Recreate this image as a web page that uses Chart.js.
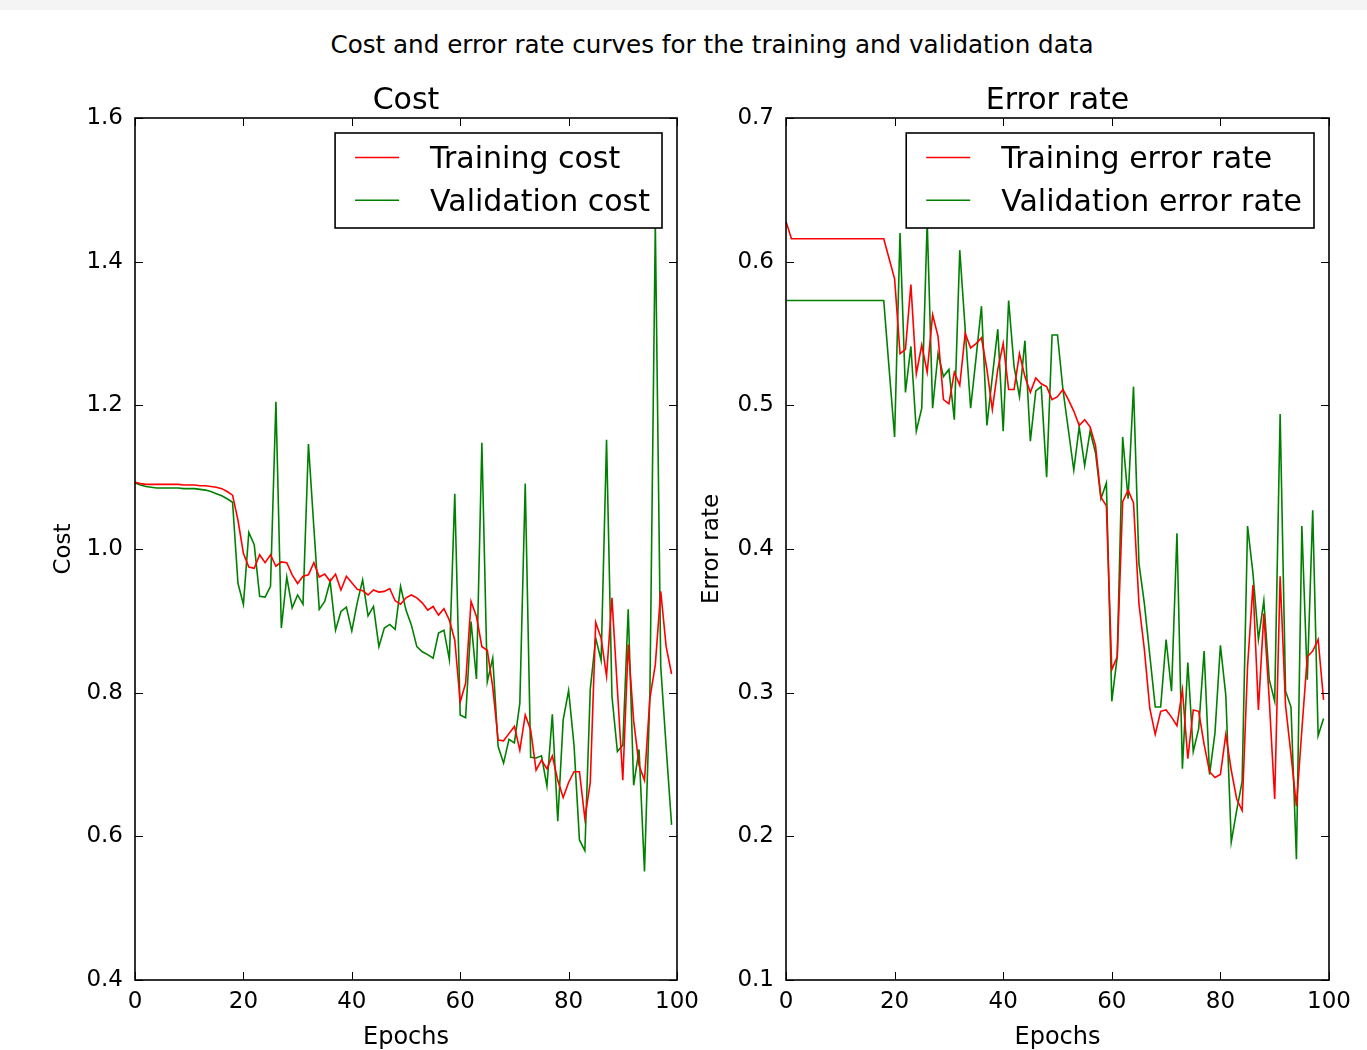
<!DOCTYPE html>
<html>
<head>
<meta charset="utf-8">
<script src="https://cdn.jsdelivr.net/npm/chart.js@4.4.1/dist/chart.umd.min.js"></script>
<style>
html,body{margin:0;padding:0;background:#fff;overflow:hidden;width:1367px;height:1050px;}
#band{position:absolute;left:0;top:0;width:1367px;height:10px;background:#f4f4f4;}
#sup{position:absolute;left:711.5px;top:31px;white-space:nowrap;font-family:"DejaVu Sans Condensed","DejaVu Sans",sans-serif;font-stretch:condensed;font-size:24px;line-height:28px;color:#000;transform-origin:center center;}
canvas{position:absolute;top:0;}
</style>
</head>
<body>
<div id="band"></div>
<div id="sup">Cost and error rate curves for the training and validation data</div>
<canvas id="c1" width="812" height="1050" style="left:0px"></canvas>
<canvas id="c2" width="735" height="1050" style="left:690px"></canvas>
<script>
const epochs = [0,1,2,3,4,5,6,7,8,9,10,11,12,13,14,15,16,17,18,19,20,21,22,23,24,25,26,27,28,29,30,31,32,33,34,35,36,37,38,39,40,41,42,43,44,45,46,47,48,49,50,51,52,53,54,55,56,57,58,59,60,61,62,63,64,65,66,67,68,69,70,71,72,73,74,75,76,77,78,79,80,81,82,83,84,85,86,87,88,89,90,91,92,93,94,95,96,97,98,99];

const costTrain = [1.093,1.091,1.090,1.090,1.090,1.090,1.090,1.090,1.090,1.089,1.089,1.089,1.088,1.088,1.087,1.086,1.084,1.080,1.075,1.040,
0.994,0.975,0.973,0.992,0.981,0.992,0.976,0.982,0.981,0.964,0.952,0.962,0.964,0.981,0.961,0.965,0.955,0.965,0.943,0.962,
0.953,0.944,0.942,0.936,0.943,0.940,0.941,0.945,0.928,0.923,0.932,0.936,0.932,0.925,0.915,0.920,0.908,0.917,0.901,0.873,
0.787,0.813,0.927,0.906,0.864,0.859,0.808,0.734,0.733,0.743,0.753,0.720,0.769,0.748,0.692,0.706,0.694,0.712,0.678,0.654,
0.675,0.690,0.690,0.625,0.675,0.898,0.876,0.823,0.932,0.805,0.678,0.867,0.761,0.699,0.678,0.792,0.839,0.941,0.864,0.826];

const costVal = [1.092,1.089,1.087,1.086,1.085,1.085,1.085,1.085,1.085,1.084,1.084,1.084,1.083,1.082,1.080,1.077,1.074,1.070,1.065,0.952,
0.923,1.023,1.006,0.934,0.933,0.948,1.205,0.890,0.961,0.918,0.936,0.923,1.146,1.030,0.916,0.927,0.955,0.887,0.913,0.919,
0.886,0.925,0.957,0.907,0.920,0.864,0.890,0.895,0.888,0.948,0.915,0.894,0.864,0.857,0.853,0.848,0.883,0.887,0.846,1.077,
0.769,0.765,0.899,0.819,1.148,0.815,0.848,0.725,0.702,0.735,0.730,0.785,1.091,0.710,0.709,0.712,0.670,0.770,0.621,0.762,
0.803,0.727,0.595,0.580,0.805,0.876,0.845,1.152,0.795,0.718,0.727,0.916,0.671,0.721,0.551,0.799,1.452,0.836,0.724,0.616];

const errTrain = [0.628,0.616,0.616,0.616,0.616,0.616,0.616,0.616,0.616,0.616,0.616,0.616,0.616,0.616,0.616,0.616,0.616,0.616,0.616,0.602,
0.588,0.536,0.539,0.584,0.522,0.542,0.523,0.563,0.548,0.504,0.501,0.523,0.514,0.550,0.540,0.543,0.547,0.525,0.497,0.525,
0.543,0.511,0.511,0.536,0.520,0.509,0.519,0.515,0.513,0.504,0.506,0.511,0.504,0.496,0.486,0.490,0.485,0.472,0.436,0.430,
0.316,0.325,0.433,0.441,0.432,0.362,0.330,0.289,0.271,0.287,0.288,0.283,0.277,0.302,0.254,0.288,0.287,0.264,0.245,0.241,
0.243,0.271,0.246,0.226,0.218,0.318,0.375,0.288,0.355,0.295,0.226,0.381,0.291,0.257,0.221,0.274,0.325,0.329,0.337,0.295];

const errVal = [0.573,0.573,0.573,0.573,0.573,0.573,0.573,0.573,0.573,0.573,0.573,0.573,0.573,0.573,0.573,0.573,0.573,0.573,0.573,0.525,
0.478,0.620,0.509,0.541,0.482,0.498,0.628,0.498,0.536,0.520,0.525,0.490,0.608,0.553,0.498,0.533,0.569,0.486,0.520,0.553,
0.482,0.573,0.527,0.506,0.545,0.475,0.510,0.513,0.450,0.549,0.549,0.511,0.483,0.455,0.485,0.458,0.482,0.467,0.435,0.446,
0.294,0.325,0.478,0.435,0.513,0.390,0.362,0.326,0.290,0.290,0.337,0.301,0.411,0.247,0.321,0.259,0.275,0.329,0.243,0.272,
0.333,0.298,0.196,0.218,0.238,0.416,0.383,0.337,0.364,0.309,0.294,0.494,0.301,0.290,0.184,0.416,0.309,0.427,0.270,0.282];

const xTicks = [0,20,40,60,80,100];
const costTicks = [0.4,0.6,0.8,1.0,1.2,1.4,1.6];
const errTicks = [0.1,0.2,0.3,0.4,0.5,0.6,0.7];

const FONT = '"DejaVu Sans", sans-serif';

const framePlugin = {
  id: 'frame',
  afterDraw(chart) {
    const ctx = chart.ctx, a = chart.chartArea, x = chart.scales.x, y = chart.scales.y;
    ctx.save();
    ctx.strokeStyle = '#000';
    ctx.lineWidth = 1;
    ctx.beginPath();
    x.ticks.forEach(t => {
      const p = Math.round(x.getPixelForValue(t.value)) + 0.5;
      ctx.moveTo(p, a.bottom); ctx.lineTo(p, a.bottom - 8);
      ctx.moveTo(p, a.top); ctx.lineTo(p, a.top + 8);
    });
    y.ticks.forEach(t => {
      const p = Math.round(y.getPixelForValue(t.value)) + 0.5;
      ctx.moveTo(a.left, p); ctx.lineTo(a.left + 8, p);
      ctx.moveTo(a.right, p); ctx.lineTo(a.right - 8, p);
    });
    ctx.stroke();
    ctx.lineWidth = 1.6;
    ctx.strokeRect(a.left, a.top, a.right - a.left, a.bottom - a.top);
    // legend box
    ctx.font = '30px ' + FONT;
    const ds = chart.data.datasets;
    const tw = Math.max(...ds.map(d => ctx.measureText(d.label).width));
    const bw = 95 + tw + 12, bh = 95;
    const bx = a.right - 15 - bw, by = a.top + 15;
    ctx.fillStyle = '#fff';
    ctx.fillRect(bx, by, bw, bh);
    ctx.strokeStyle = '#000';
    ctx.lineWidth = 1.6;
    ctx.strokeRect(bx, by, bw, bh);
    ds.forEach((d, i) => {
      const ly = by + 24.5 + i * 42.7;
      ctx.strokeStyle = d.borderColor;
      ctx.lineWidth = 1.6;
      ctx.beginPath();
      ctx.moveTo(bx + 20, ly); ctx.lineTo(bx + 64, ly);
      ctx.stroke();
      ctx.fillStyle = '#000';
      ctx.textBaseline = 'middle';
      ctx.textAlign = 'left';
      ctx.fillText(d.label, bx + 95, ly + 3);
    });
    ctx.restore();
  }
};

function build(id, o) {
  return new Chart(document.getElementById(id), {
    type: 'line',
    data: {
      datasets: [
        {label: o.labels[0], data: o.train.map((v, i) => ({x: epochs[i], y: v})), borderColor: '#ff0000', borderWidth: 1.6, pointRadius: 0, tension: 0, fill: false},
        {label: o.labels[1], data: o.val.map((v, i) => ({x: epochs[i], y: v})), borderColor: '#008000', borderWidth: 1.6, pointRadius: 0, tension: 0, fill: false}
      ]
    },
    options: {
      responsive: false, animation: false, devicePixelRatio: 1, events: [],
      layout: {padding: 0},
      plugins: {
        legend: {display: false},
        tooltip: {enabled: false},
        title: {display: true, text: o.title, color: '#000', font: {family: FONT, size: 30, weight: 'normal', lineHeight: 1.1}, padding: {top: 84.5, bottom: 0.5}}
      },
      scales: {
        x: {
          type: 'linear', min: 0, max: 100,
          afterBuildTicks: s => { s.ticks = xTicks.map(v => ({value: v})); },
          ticks: {color: '#000', font: {family: FONT, size: 23}, padding: 8, maxRotation: 0, autoSkip: false, callback: v => String(v)},
          grid: {display: false, drawTicks: false},
          border: {display: false},
          title: {display: true, text: 'Epochs', color: '#000', font: {family: FONT, size: 24, lineHeight: 1}, padding: {top: 0, bottom: 0}},
          afterFit: s => { s.height = 70; }
        },
        y: {
          type: 'linear', position: 'left', min: o.ymin, max: o.ymax,
          afterBuildTicks: s => { s.ticks = o.yticks.map(v => ({value: v})); },
          ticks: {color: '#000', font: {family: FONT, size: 23}, padding: 12, autoSkip: false, callback: v => Number(v).toFixed(1)},
          grid: {display: false, drawTicks: false},
          border: {display: false},
          title: {display: true, text: o.ytitle, color: '#000', font: {family: FONT, size: 23, lineHeight: 1.2}, padding: {top: o.ytitlePad, bottom: 0}},
          afterFit: s => { s.width = o.yw; }
        },
        yR: {
          type: 'linear', position: 'right', display: true, min: 0, max: 1,
          ticks: {display: false},
          grid: {display: false, drawTicks: false},
          border: {display: false},
          afterFit: s => { s.width = o.yw; }
        }
      }
    },
    plugins: [framePlugin]
  });
}

build('c1', {labels: ['Training cost', 'Validation cost'], train: costTrain, val: costVal, title: 'Cost', ytitle: 'Cost', ymin: 0.4, ymax: 1.6, yticks: costTicks, yw: 135, ytitlePad: 50});
build('c2', {labels: ['Training error rate', 'Validation error rate'], train: errTrain, val: errVal, title: 'Error rate', ytitle: 'Error rate', ymin: 0.1, ymax: 0.7, yticks: errTicks, yw: 96, ytitlePad: 8});

// fit the figure title to the reference width
const sup = document.getElementById('sup');
const w = sup.getBoundingClientRect().width;
const k = 763 / w;
sup.style.transform = 'translateX(-50%) scaleX(' + k.toFixed(4) + ')';
</script>
</body>
</html>
